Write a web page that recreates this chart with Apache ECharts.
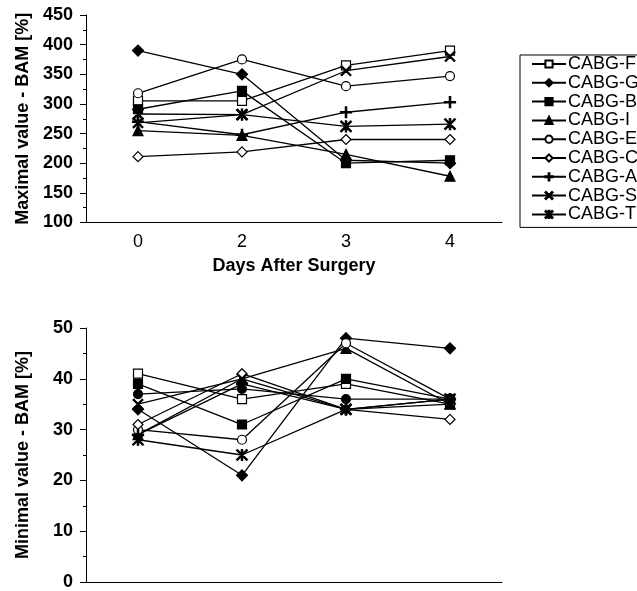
<!DOCTYPE html>
<html><head><meta charset="utf-8">
<script src="https://cdn.jsdelivr.net/npm/echarts@6/dist/echarts.min.js"></script>
<style>html,body{margin:0;padding:0;background:#fff}#c{width:637px;height:591px}</style>
</head><body><div id="c"></div>
<script>
var categories = ['0', '2', '3', '4'];
var seriesNames = ['CABG-F', 'CABG-G', 'CABG-B', 'CABG-I', 'CABG-E', 'CABG-C', 'CABG-A', 'CABG-S', 'CABG-T'];

// Top chart: maximal value - BAM [%]
var maxF = [305, 305, 365, 390];
var maxG = [390, 350, 205, 200];
var maxB = [291, 322, 200, 205];
var maxI = [255, 247, 215, 178];
var maxE = [318, 375, 330, 347];
var maxC = [211, 219, 240, 240];
var maxA = [270, 248, 286, 303];
var maxS = [268, 282, 356, 380];
var maxT = [283, 282, 262, 266];

// Bottom chart: minimal value - BAM [%]
var minF = [41, 36, 39, 35];
var minG = [34, 21, 48, 46];
var minB = [39, 31, 40, 36];
var minI = [29, 40, 46, 35];
var minE = [30, 28, 47, 36];
var minC = [31, 41, 34, 32];
var minA = [29, 39, 34, 36];
var minS = [35, 40, 34, 35];
var minT = [28, 25, 34, 36];
var minExtra = [37, 38, 36, 36];

var maxTicks = {min: 100, max: 450, interval: 50};
var minTicks = {min: 0, max: 50, interval: 10};

var PLUS = 'path://M4.4,0L5.6,0L5.6,10L4.4,10Z M0,5.6L0,4.4L10,4.4L10,5.6Z';
var CROSS = 'path://M0,0.8L0.8,0L10,9.2L9.2,10Z M9.2,0L10,0.8L0.8,10L0,9.2Z';
var STAR = 'path://M0,0.8L0.8,0L10,9.2L9.2,10Z M9.2,0L10,0.8L0.8,10L0,9.2Z M4.4,0L5.6,0L5.6,10L4.4,10Z';

var markers = {
  'CABG-F': {symbol: 'rect', size: 9, fill: '#fff'},
  'CABG-G': {symbol: 'diamond', size: 11, fill: '#000'},
  'CABG-B': {symbol: 'rect', size: 9, fill: '#000'},
  'CABG-I': {symbol: 'triangle', size: 10, fill: '#000'},
  'CABG-E': {symbol: 'circle', size: 9, fill: '#fff'},
  'CABG-C': {symbol: 'diamond', size: 10, fill: '#fff'},
  'CABG-A': {symbol: PLUS, size: 11, fill: '#000'},
  'CABG-S': {symbol: CROSS, size: 10, fill: '#000'},
  'CABG-T': {symbol: STAR, size: 11, fill: '#000'},
  'extra': {symbol: 'circle', size: 9, fill: '#000'}
};

var maxData = [maxF, maxG, maxB, maxI, maxE, maxC, maxA, maxS, maxT];
var minData = [minF, minG, minB, minI, minE, minC, minA, minS, minT];

function mk(name, key, data, idx) {
  var m = markers[key];
  return {
    name: name, type: 'line', data: data,
    xAxisIndex: idx, yAxisIndex: idx,
    symbol: m.symbol, symbolSize: m.size, showAllSymbol: true,
    lineStyle: {color: '#000', width: 1.3},
    itemStyle: {color: m.fill, borderColor: '#000', borderWidth: 1.2},
    emphasis: {disabled: true},
    animation: false, z: 3
  };
}

var series = [];
seriesNames.forEach(function (n, i) { series.push(mk(n, n, maxData[i], 0)); });
seriesNames.forEach(function (n, i) { series.push(mk(n, n, minData[i], 1)); });
series.push(mk('Series 10', 'extra', minExtra, 1));

var fontFam = 'Arial, "Liberation Sans", sans-serif';
var FS = 18;

function yAxis(t, name) {
  return {
    type: 'value', gridIndex: name === 'top' ? 0 : 1,
    min: t.min, max: t.max, interval: t.interval,
    name: name === 'top' ? 'Maximal value - BAM [%]' : 'Minimal value - BAM [%]',
    nameLocation: 'middle', nameGap: 54, nameRotate: 90,
    nameTextStyle: {fontSize: FS, fontWeight: 'bold', color: '#000', fontFamily: fontFam},
    axisLine: {show: true, lineStyle: {color: '#000', width: 1}},
    axisTick: {show: true, length: 6, lineStyle: {color: '#000'}},
    minorTick: {show: true, splitNumber: 2, length: 3, lineStyle: {color: '#000'}},
    splitLine: {show: false},
    axisLabel: {fontSize: FS, fontWeight: 'bold', color: '#000', fontFamily: fontFam, margin: 13}
  };
}

var option = {
  backgroundColor: '#fff',
  animation: false,
  grid: [
    {left: 86, top: 15, width: 416, height: 207.5},
    {left: 86, top: 328, width: 416, height: 255}
  ],
  xAxis: [
    {type: 'category', gridIndex: 0, data: categories, boundaryGap: true,
     name: 'Days After Surgery', nameLocation: 'middle', nameGap: 35,
     nameTextStyle: {fontSize: FS, fontWeight: 'bold', color: '#000', fontFamily: fontFam},
     axisLine: {lineStyle: {color: '#000', width: 1}},
     axisTick: {inside: true, length: 6, lineStyle: {color: '#000'}},
     axisLabel: {fontSize: FS, color: '#000', fontFamily: fontFam, margin: 11},
     splitLine: {show: false}},
    {type: 'category', gridIndex: 1, data: categories, boundaryGap: true,
     axisLine: {lineStyle: {color: '#000', width: 1}},
     axisTick: {inside: true, length: 6, lineStyle: {color: '#000'}},
     axisLabel: {show: false},
     splitLine: {show: false}}
  ],
  yAxis: [yAxis(maxTicks, 'top'), yAxis(minTicks, 'bottom')],
  legend: {
    data: seriesNames, orient: 'vertical', left: 520, top: 55,
    backgroundColor: '#fff', borderColor: '#000', borderWidth: 1,
    padding: [0, 30, 4, 11],
    itemWidth: 34, itemHeight: 9, itemGap: 0.8,
    textStyle: {fontSize: FS, lineHeight: 12, color: '#000', fontFamily: fontFam, padding: [0, 0, 0, -3]},
    selectedMode: false
  },
  series: series
};
var chart = echarts.init(document.getElementById('c'), null, {renderer: 'canvas'});
chart.setOption(option);
</script></body></html>
